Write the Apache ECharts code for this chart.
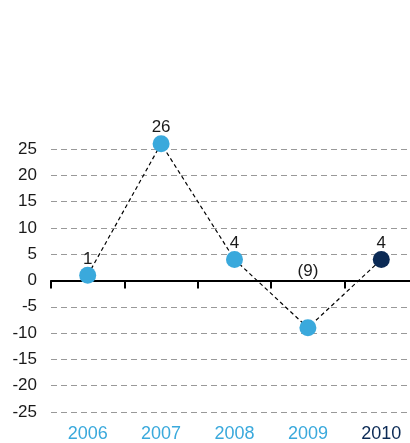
<!DOCTYPE html>
<html>
<head>
<meta charset="utf-8">
<script src="https://cdn.jsdelivr.net/npm/echarts@6/dist/echarts.min.js"></script>
<style>
  html, body { margin: 0; padding: 0; background: #ffffff; }
  #chart { width: 410px; height: 443px; }
</style>
</head>
<body>
<div id="chart"></div>
<script>
// Yearly change, with the latest year highlighted
const years = ['2006', '2007', '2008', '2009', '2010'];
const values = [1, 26, 4, -9, 4];
const yTicks = { min: -25, max: 25, step: 5 };

const LIGHT = '#3aa9dc';
const DARK = '#0b2a55';
const FONT = 'Liberation Sans, Arial, sans-serif';

function fmt(v) {
  return v < 0 ? '(' + Math.abs(v) + ')' : String(v);
}

const lastIdx = years.length - 1;

const chart = echarts.init(document.getElementById('chart'));
chart.setOption({
  backgroundColor: '#ffffff',
  animation: false,
  grid: { left: 51, width: 367, top: 149, bottom: 31, outerBoundsMode: 'none', containLabel: false },
  xAxis: [
    {
      type: 'category',
      data: years,
      position: 'bottom',
      axisLine: { onZero: true, lineStyle: { color: '#000', width: 2 } },
      axisTick: { show: true, length: 8, lineStyle: { color: '#000', width: 2 } },
      axisLabel: { show: false },
      splitLine: { show: false }
    },
    {
      type: 'category',
      data: years.map((y, i) => ({
        value: y,
        textStyle: { color: i === lastIdx ? DARK : LIGHT }
      })),
      position: 'bottom',
      axisLine: { show: false, onZero: false },
      axisTick: { show: false },
      axisLabel: { margin: 13, fontSize: 18, fontFamily: FONT },
      splitLine: { show: false }
    }
  ],
  yAxis: {
    type: 'value',
    min: yTicks.min,
    max: yTicks.max,
    interval: yTicks.step,
    axisLine: { show: false },
    axisTick: { show: false },
    axisLabel: { margin: 14, fontSize: 17, color: '#1a1a1a', fontFamily: FONT },
    splitLine: { lineStyle: { color: '#999', width: 1, type: [6, 4] } }
  },
  series: [{
    type: 'line',
    xAxisIndex: 0,
    clip: false,
    data: values.map((v, i) => {
      const item = {
        value: v,
        itemStyle: { color: i === lastIdx ? DARK : LIGHT }
      };
      if (v < 0) {
        item.label = { position: 'top', distance: 40 };
      }
      return item;
    }),
    symbol: 'circle',
    symbolSize: 17,
    lineStyle: { color: '#000', width: 1.2, type: [4, 3] },
    label: {
      show: true,
      position: 'top',
      distance: -1,
      fontSize: 17,
      color: '#1a1a1a',
      fontFamily: FONT,
      formatter: p => fmt(p.value)
    },
    z: 3
  }]
});
</script>
</body>
</html>
